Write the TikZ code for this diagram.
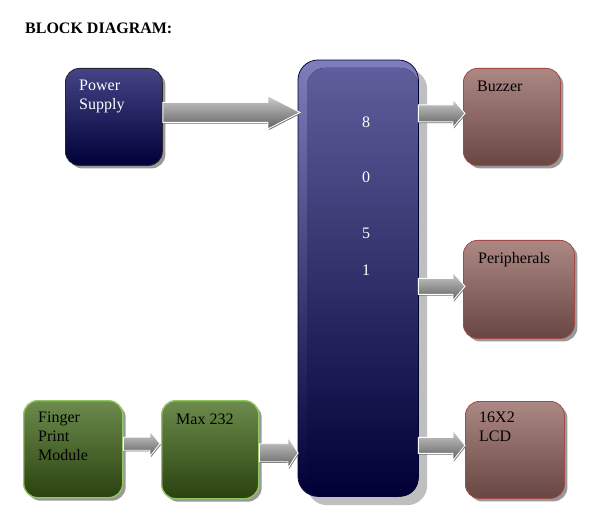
\documentclass[tikz,border=0pt]{standalone}
\usepackage{fontspec}
\setmainfont{Liberation Serif}
\usetikzlibrary{calc,shadows}
\definecolor{navyT}{HTML}{444486}
\definecolor{navyB}{HTML}{00003A}
\definecolor{mcuO}{HTML}{7E7EBC}
\definecolor{mcuT}{HTML}{5E5E9C}
\definecolor{mcuB}{HTML}{000036}
\definecolor{brT}{HTML}{AC8884}
\definecolor{brB}{HTML}{684642}
\definecolor{brD}{HTML}{A24A4A}
\definecolor{grT}{HTML}{6C8B4C}
\definecolor{grB}{HTML}{2A420F}
\definecolor{grD}{HTML}{92C862}
\newcommand{\blockarrow}[5]{%
  \path[barrow] let \p1=#1, \p2=#2 in
    (\x1,\y1+#3) -- (\x2-#5,\y1+#3) -- (\x2-#5,\y1+#4) -- (\x2,\y1)
    -- (\x2-#5,\y1-#4) -- (\x2-#5,\y1-#3) -- (\x1,\y1-#3) -- cycle;}
\tikzset{
  box/.style={rectangle, rounded corners=14pt, anchor=north west, inner sep=0pt,
    line width=0.8pt,
    drop shadow={shadow xshift=3pt, shadow yshift=-3pt, fill=black!40, opacity=1}},
  navybox/.style={box, draw=black!85, top color=navyT, bottom color=navyB},
  brownbox/.style={box, draw=brD, top color=brT, bottom color=brB},
  greenbox/.style={box, draw=grD, line width=1.4pt, top color=grT, bottom color=grB},
  lbl/.style={anchor=north west, inner sep=0pt, align=left,
    font=\fontsize{16}{19}\selectfont},
  digit/.style={inner sep=0pt, text=white, font=\fontsize{16}{19}\selectfont},
  barrow/.style={top color=black!20, bottom color=black!62, draw=white, line width=0.9pt,
    drop shadow={shadow xshift=0.8pt, shadow yshift=-1.2pt, fill=black!55, opacity=1}},
}
\begin{document}
\begin{tikzpicture}[x=1pt,y=-1pt]
\useasboundingbox (0,0) rectangle (599,529);
\fill[white] (0,0) rectangle (599,529);
% title
\node[anchor=base west, inner sep=0pt, font=\fontsize{16}{19}\selectfont\bfseries] (title) at (25,33.5) {BLOCK DIAGRAM:};
% microcontroller
\node[rectangle, rounded corners=20pt, anchor=north west, inner sep=0pt,
  minimum width=120pt, minimum height=436pt, top color=mcuO, bottom color=mcuB,
  drop shadow={shadow xshift=9pt, shadow yshift=-9pt, fill=black!25, opacity=1}] (mcu) at (298,60) {};
\fill[rounded corners=18pt, top color=mcuT, bottom color=mcuB]
  ($(mcu.north west)+(9,8)$) rectangle (mcu.south east);
\draw[rounded corners=20pt, draw=black!80!blue, line width=0.8pt] (mcu.north west) rectangle (mcu.south east);
\node[digit] (d8) at (366,122.5) {8};
\node[digit] (d0) at (366,177.5) {0};
\node[digit] (d5) at (366,233) {5};
\node[digit] (d1) at (366,270) {1};
% boxes
\node[navybox, minimum width=97pt, minimum height=97pt] (ps) at (65,68) {};
\node[brownbox, minimum width=97pt, minimum height=97pt] (bz) at (463,68) {};
\node[brownbox, minimum width=111pt, minimum height=98pt] (pe) at (463,240) {};
\node[brownbox, minimum width=99pt, minimum height=97pt] (lcd) at (465,401) {};
\node[greenbox, minimum width=99pt, minimum height=97pt] (fpm) at (23,400) {};
\node[greenbox, minimum width=97pt, minimum height=98pt] (max) at (161,400) {};
% labels
\node[lbl, text=white] (pst) at (79,80) {Power\\Supply};
\node[lbl] (bzt) at (477,81) {Buzzer};
\node[lbl] (pet) at (478,252) {Peripherals};
\node[lbl] (lcdt) at (479,412) {16X2\\LCD};
\node[lbl] (fpmt) at (38,412) {Finger\\Print\\Module};
\node[lbl] (maxt) at (176,414) {Max 232};
% arrows
\blockarrow{($(ps.east)+(0,-4.5)$)}{($(mcu.west)+(2,0)$)}{10pt}{16.5pt}{32pt}
\blockarrow{($(mcu.east |- bz.west)+(0,-3.5)$)}{($(bz.west)+(2,0)$)}{8.5pt}{14pt}{12pt}
\blockarrow{($(mcu.east |- pe.west)+(0,-3)$)}{($(pe.west)+(2,0)$)}{8pt}{14pt}{12pt}
\blockarrow{($(mcu.east |- lcd.west)+(0,-4.5)$)}{(lcd.west)}{8pt}{15pt}{12pt}
\blockarrow{($(fpm.east)+(0,-5.5)$)}{($(max.west)+(-1,0)$)}{6.5pt}{12.5pt}{10pt}
\blockarrow{($(max.east)+(0,3)$)}{(mcu.west)}{9pt}{15.5pt}{10pt}
\end{tikzpicture}
\end{document}
